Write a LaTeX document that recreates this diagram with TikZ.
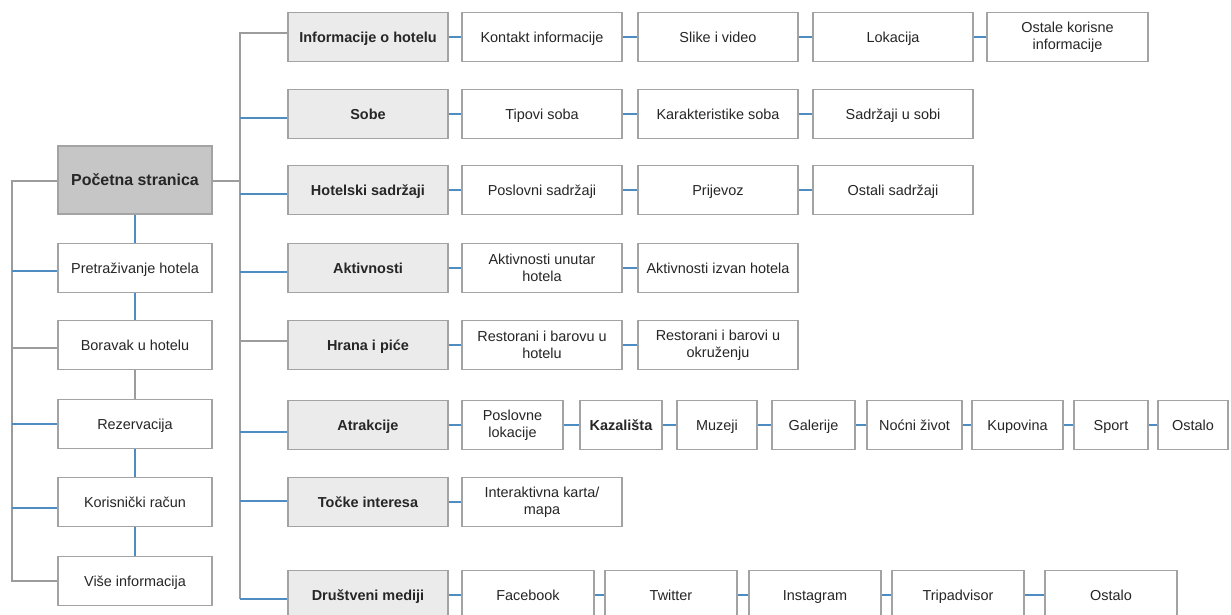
\documentclass[tikz,border=0pt]{standalone}
\usepackage{fontspec}
\setmainfont{Liberation Sans}
\usetikzlibrary{backgrounds}
\definecolor{linegray}{HTML}{9C9C9C}
\definecolor{lineblue}{HTML}{4F8CC2}
\definecolor{boxborder}{HTML}{A3A3A3}
\definecolor{lvlfill}{HTML}{EBEBEB}
\definecolor{rootfill}{HTML}{C6C6C6}
\definecolor{txt}{HTML}{262626}
\begin{document}
\begin{tikzpicture}[x=1bp,y=-1bp,
  box/.style={draw=boxborder, line width=1.9bp, fill=white, text=txt, align=center,
    inner sep=0pt, minimum height=49bp, text height=10.4bp, text depth=0pt,
    font=\fontsize{14.5}{17.5}\selectfont},
  two/.style={text height={}, text depth={}},
  lvl/.style={box, fill=lvlfill, minimum width=160bp, font=\fontsize{14.5}{17.5}\selectfont\bfseries},
  root/.style={box, fill=rootfill, minimum width=154bp, minimum height=68bp, text height=11.5bp,
    font=\fontsize{16}{19}\selectfont\bfseries},
  lbox/.style={box, minimum width=154bp},
  gline/.style={draw=linegray, line width=1.7bp},
  bline/.style={draw=lineblue, line width=1.7bp}]
\clip (0,0) rectangle (1231,615);

% left column
\node[root] (poc) at (135,180) {Početna stranica};
\node[lbox] (pret) at (135,268) {Pretraživanje hotela};
\node[lbox] (bor) at (135,345) {Boravak u hotelu};
\node[lbox] (rez) at (135,424) {Rezervacija};
\node[lbox] (kor) at (135,502) {Korisnički račun};
\node[lbox] (vise) at (135,581) {Više informacija};

% level 1
\node[lvl] (inf) at (368,37) {Informacije o hotelu};
\node[lvl] (sob) at (368,114) {Sobe};
\node[lvl] (hot) at (368,190) {Hotelski sadržaji};
\node[lvl] (akt) at (368,268) {Aktivnosti};
\node[lvl] (hra) at (368,345) {Hrana i piće};
\node[lvl] (atr) at (368,425) {Atrakcije};
\node[lvl] (toc) at (368,502) {Točke interesa};
\node[lvl] (dru) at (368,595) {Društveni mediji};

% row 1
\node[box, minimum width=160bp] (kon) at (542,37) {Kontakt informacije};
\node[box, minimum width=160bp] (sli) at (718,37) {Slike i video};
\node[box, minimum width=160bp] (lok) at (893,37) {Lokacija};
\node[box, two, minimum width=161bp] (osk) at (1067.5,37) {Ostale korisne\\informacije};
% row 2
\node[box, minimum width=160bp] (tip) at (542,114) {Tipovi soba};
\node[box, minimum width=160bp] (kar) at (718,114) {Karakteristike soba};
\node[box, minimum width=160bp] (sus) at (893,114) {Sadržaji u sobi};
% row 3
\node[box, minimum width=160bp] (pos) at (542,190) {Poslovni sadržaji};
\node[box, minimum width=160bp] (pri) at (718,190) {Prijevoz};
\node[box, minimum width=160bp] (oss) at (893,190) {Ostali sadržaji};
% row 4
\node[box, two, minimum width=160bp] (aku) at (542,268) {Aktivnosti unutar\\hotela};
\node[box, minimum width=160bp] (aki) at (718,268) {Aktivnosti izvan hotela};
% row 5
\node[box, two, minimum width=160bp] (reh) at (542,345) {Restorani i barovu u\\hotelu};
\node[box, two, minimum width=160bp] (reo) at (718,345) {Restorani i barovi u\\okruženju};
% row 6
\node[box, two, minimum width=101bp] (pol) at (512.5,425) {Poslovne\\lokacije};
\node[box, minimum width=82bp, font=\fontsize{14.5}{17.5}\selectfont\bfseries] (kaz) at (621,425) {Kazališta};
\node[box, minimum width=80bp] (muz) at (717,425) {Muzeji};
\node[box, minimum width=83bp] (gal) at (813.5,425) {Galerije};
\node[box, minimum width=95bp] (noc) at (914.5,425) {Noćni život};
\node[box, minimum width=91bp] (kup) at (1017.5,425) {Kupovina};
\node[box, minimum width=74bp] (spo) at (1111,425) {Sport};
\node[box, minimum width=70bp] (osa) at (1193,425) {Ostalo};
% row 7
\node[box, two, minimum width=160bp] (ika) at (542,502) {Interaktivna karta/\\mapa};
% row 8
\node[box, minimum width=132bp] (fb) at (528,595) {Facebook};
\node[box, minimum width=132bp] (tw) at (671,595) {Twitter};
\node[box, minimum width=132bp] (ins) at (815,595) {Instagram};
\node[box, minimum width=132bp] (tri) at (958,595) {Tripadvisor};
\node[box, minimum width=132bp] (osm) at (1111,595) {Ostalo};

% bus coordinates and attachment points
\coordinate (lbus) at (12,181);
\coordinate (rbus) at (240,181);
\coordinate (pocL) at ([yshift=-1bp]poc.west);
\coordinate (pocR) at ([yshift=-1bp]poc.east);
\coordinate (pretL) at ([yshift=-3bp]pret.west);
\coordinate (borL) at ([yshift=-3bp]bor.west);
\coordinate (korL) at ([yshift=-6bp]kor.west);
\coordinate (infL) at ([yshift=4bp]inf.west);
\coordinate (sobL) at ([yshift=-4bp]sob.west);
\coordinate (hotL) at ([yshift=-4bp]hot.west);
\coordinate (aktL) at ([yshift=-4bp]akt.west);
\coordinate (hraL) at ([yshift=4bp]hra.west);
\coordinate (atrL) at ([yshift=-7bp]atr.west);
\coordinate (tocL) at ([yshift=1bp]toc.west);
\coordinate (druL) at ([yshift=-4bp]dru.west);

\begin{pgfonlayer}{background}
\fill[white] (0,0) rectangle (1231,615);
% left tree
\draw[gline] (pocL) -- (lbus) -- (lbus |- vise.west) -- (vise.west);
\draw[bline] (lbus |- pretL) -- (pretL);
\draw[gline] (lbus |- borL) -- (borL);
\draw[bline] (lbus |- rez.west) -- (rez.west);
\draw[bline] (lbus |- korL) -- (korL);
\draw[bline] (poc.south) -- (pret.north);
\draw[bline] (pret.south) -- (bor.north);
\draw[gline] (bor.south) -- (rez.north);
\draw[bline] (rez.south) -- (kor.north);
\draw[bline] (kor.south) -- (vise.north);

% right tree
\draw[gline] (pocR) -- (rbus);
\draw[gline] (infL) -- (rbus |- infL) -- (rbus |- druL);
\draw[bline] (rbus |- sobL) -- (sobL);
\draw[bline] (rbus |- hotL) -- (hotL);
\draw[bline] (rbus |- aktL) -- (aktL);
\draw[gline] (rbus |- hraL) -- (hraL);
\draw[bline] (rbus |- atrL) -- (atrL);
\draw[bline] (rbus |- tocL) -- (tocL);
\draw[bline] (rbus |- druL) -- (druL);

% row connectors
\draw[bline] (inf.east) -- (kon.west);
\draw[bline] (kon.east) -- (sli.west);
\draw[bline] (sli.east) -- (lok.west);
\draw[bline] (lok.east) -- (osk.west);
\draw[bline] (sob.east) -- (tip.west);
\draw[bline] (tip.east) -- (kar.west);
\draw[bline] (kar.east) -- (sus.west);
\draw[bline] (hot.east) -- (pos.west);
\draw[bline] (pos.east) -- (pri.west);
\draw[bline] (pri.east) -- (oss.west);
\draw[bline] (akt.east) -- (aku.west);
\draw[bline] (aku.east) -- (aki.west);
\draw[bline] (hra.east) -- (reh.west);
\draw[bline] (reh.east) -- (reo.west);
\draw[bline] (atr.east) -- (pol.west);
\draw[bline] (pol.east) -- (kaz.west);
\draw[bline] (kaz.east) -- (muz.west);
\draw[bline] (muz.east) -- (gal.west);
\draw[bline] (gal.east) -- (noc.west);
\draw[bline] (noc.east) -- (kup.west);
\draw[bline] (kup.east) -- (spo.west);
\draw[bline] (spo.east) -- (osa.west);
\draw[bline] (toc.east) -- (ika.west);
\draw[bline] (dru.east) -- (fb.west);
\draw[bline] (fb.east) -- (tw.west);
\draw[bline] (tw.east) -- (ins.west);
\draw[bline] (ins.east) -- (tri.west);
\draw[bline] (tri.east) -- (osm.west);
\end{pgfonlayer}
\end{tikzpicture}
\end{document}
